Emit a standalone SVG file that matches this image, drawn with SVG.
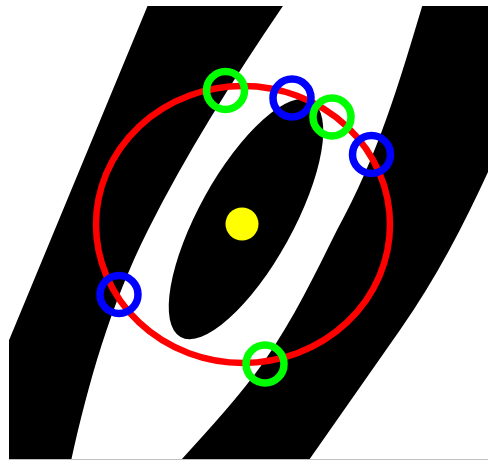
<svg xmlns="http://www.w3.org/2000/svg" width="488" height="460" viewBox="0 0 488 460">
  <defs>
    <clipPath id="frame">
      <rect x="9" y="6" width="479" height="453"/>
    </clipPath>
    <style>
      .band { fill: #000000; }
      .ring { fill: none; stroke-width: 7.5; }
      .green { stroke: #00ff00; }
      .blue { stroke: #0000ff; }
    </style>
  </defs>
  <rect x="0" y="0" width="488" height="460" fill="#ffffff"/>
  <g id="bands" clip-path="url(#frame)">
    <path id="left-band" class="band" d="M150,0 L0,362 L0,470 L69,470 C86.6,390 108,310 148,230 C186.5,153 234.6,77 287,0 Z"/>
    <path id="right-band" class="band" d="M424,0 C400.9,77 379.4,153 337,230 C315,274 293.8,319 263,363 C237.8,399 204.4,434 172,470 L302,470 L400,330 C442,270 471,210 498,150 L498,0 Z"/>
    <ellipse id="center-ellipse" class="band" cx="246" cy="219" rx="47" ry="135" transform="rotate(29 246 219)"/>
  </g>
  <rect x="9" y="459" width="479" height="1" fill="#c0c0c0"/>
  <circle id="center-dot" cx="242" cy="224" r="16.5" fill="#ffff00"/>
  <ellipse id="red-circle" cx="243" cy="224.5" rx="147" ry="138.5" fill="none" stroke="#ff0000" stroke-width="6.5"/>
  <g id="rings">
    <circle id="g1" class="ring green" cx="225.5" cy="90.5" r="19"/>
    <circle id="b1" class="ring blue" cx="292" cy="98" r="19"/>
    <circle id="g2" class="ring green" cx="332" cy="117" r="19"/>
    <circle id="b2" class="ring blue" cx="371.5" cy="154.5" r="19"/>
    <circle id="b3" class="ring blue" cx="119" cy="294.5" r="19"/>
    <circle id="g3" class="ring green" cx="265" cy="364" r="19"/>
  </g>
</svg>
